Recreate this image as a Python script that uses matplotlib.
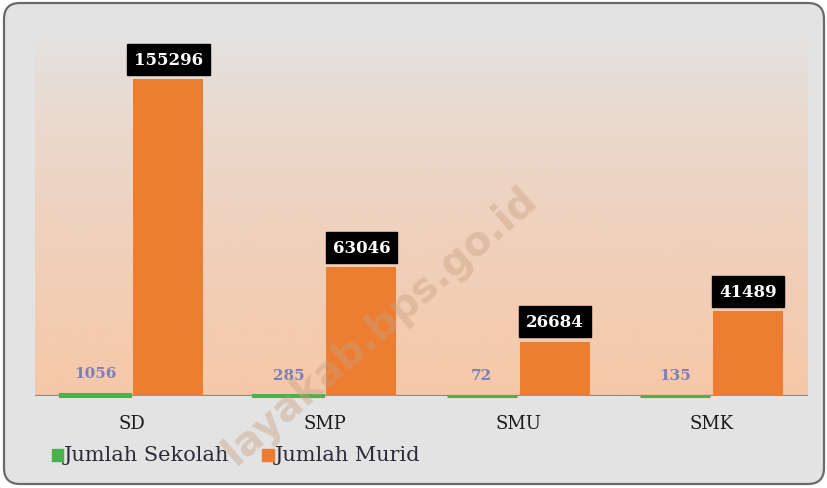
import numpy as np
import matplotlib
matplotlib.use("Agg")
import matplotlib.pyplot as plt
from matplotlib.patches import FancyBboxPatch, Rectangle
from matplotlib.colors import to_rgb

# Data
categories = ["SD", "SMP", "SMU", "SMK"]
jumlah_sekolah = [1056, 285, 72, 135]
jumlah_murid = [155296, 63046, 26684, 41489]

green = "#4caf50"
orange = "#ED7D31"
serif = ["DejaVu Serif"]

fig = plt.figure(figsize=(8.28, 4.89), dpi=100)
fig.patch.set_facecolor("white")

# background axes: rounded frame with light marble-grey fill
bg = fig.add_axes([0, 0, 1, 1], zorder=-1)
bg.set_xlim(0, 828)
bg.set_ylim(0, 489)
bg.axis("off")
bg.add_patch(FancyBboxPatch((4, 4), 820, 481,
                            boxstyle="round,pad=0,rounding_size=16",
                            facecolor="#e3e3e3", edgecolor="#6a6a6a",
                            linewidth=1.6))
# legend
bg.add_patch(Rectangle((52, 27), 11, 12, color=green))
bg.text(64, 33, "Jumlah Sekolah", fontsize=15, color="#2a2a3a",
        family=serif, va="center", ha="left")
bg.add_patch(Rectangle((262, 27), 12, 12, color=orange))
bg.text(275, 33, "Jumlah Murid", fontsize=15, color="#2a2a3a",
        family=serif, va="center", ha="left")

ax = fig.add_axes([35 / 828, 92 / 489, 773 / 828, 357 / 489], zorder=1)
ax.set_facecolor("none")

x = np.arange(len(categories))
w = 0.363
gap = 0.015

# peach gradient inside plot area, fading out towards the top
grad = np.zeros((256, 1, 4))
grad[:, 0, :3] = to_rgb("#f7c7a6")
grad[:, 0, 3] = np.linspace(0.95, 0.0, 256) ** 0.7
ax.imshow(grad, aspect="auto", extent=(-0.5, 3.5, 0, 175000),
          origin="lower", zorder=0)
ax.set_xlim(-0.5, len(categories) - 0.5)
ax.set_ylim(0, 175000)

ax.axhline(0, color="#8a8a8a", linewidth=1.6, zorder=1)
ax.bar(x - w / 2 - gap / 2, jumlah_sekolah, width=w, color=green, zorder=2,
       edgecolor=green, linewidth=2.2, clip_on=False, label="Jumlah Sekolah")
ax.bar(x + w / 2 + gap / 2, jumlah_murid, width=w, color=orange, zorder=2,
       label="Jumlah Murid")

for i in range(len(categories)):
    ax.annotate(str(jumlah_sekolah[i]), (x[i] - w / 2 - gap / 2, jumlah_sekolah[i]),
                xytext=(0, 10), textcoords="offset points", ha="center",
                va="bottom", fontsize=11, fontweight="bold", color="#7b7fb8",
                family=serif, zorder=3)
    ax.annotate(str(jumlah_murid[i]), (x[i] + w / 2 + gap / 2, jumlah_murid[i]),
                xytext=(0, 8), textcoords="offset points", ha="center",
                va="bottom", fontsize=12, fontweight="bold", color="white",
                family=serif, zorder=4,
                bbox=dict(boxstyle="square,pad=0.42", fc="black", ec="black"))

for s in ax.spines.values():
    s.set_visible(False)
ax.set_yticks([])
ax.set_xticks(x)
ax.set_xticklabels(categories, fontsize=13, color="#1a1a1a", family=serif)
ax.tick_params(axis="x", length=0, pad=13)

# watermark
fig.text(380 / 828, 163 / 489, "layakab.bps.go.id", fontsize=29,
         fontweight="bold", color="#c9a080", alpha=0.42, rotation=41,
         ha="center", va="center", family=["DejaVu Sans"], zorder=10)

fig.savefig("out.png", dpi=100, facecolor=fig.get_facecolor())
